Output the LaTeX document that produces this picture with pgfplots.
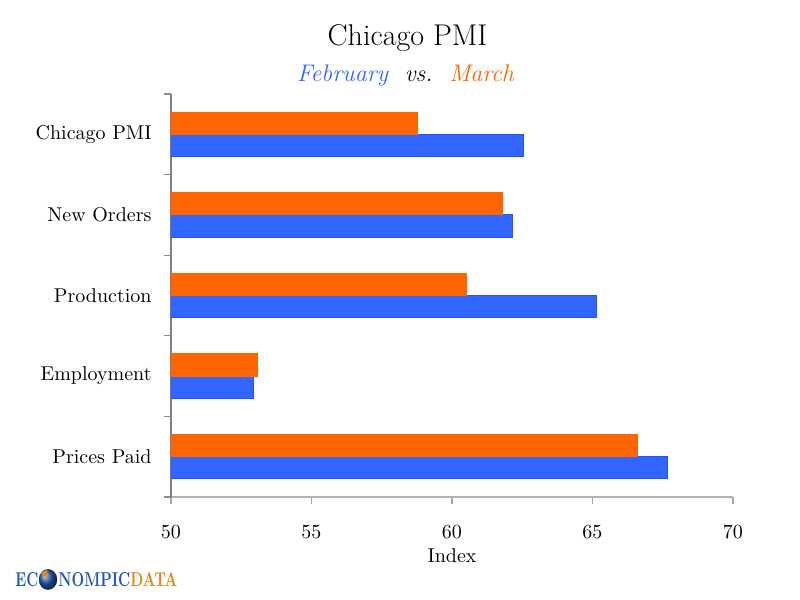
\documentclass[border=0pt]{standalone}
\usepackage{pgfplots}
\pgfplotsset{compat=1.18}
\usepackage{graphicx}
\definecolor{febblue}{HTML}{3366FF}
\definecolor{febedge}{HTML}{1F55FF}
\definecolor{marorange}{HTML}{FF6600}
\definecolor{logoblue}{HTML}{2458B8}
\definecolor{logoorange}{HTML}{E08A1E}
\begin{document}
\begin{tikzpicture}
\fill[white] (0,0) rectangle (400pt,300pt);
% titles
\node[anchor=base, inner sep=0] at (203.75pt,277pt) {\fontsize{15}{18}\selectfont Chicago PMI};
\node[anchor=base, inner sep=0] at (202.75pt,259pt) {\fontsize{12}{14}\selectfont\itshape\textcolor{febblue}{February}\ \ vs.\ \ \textcolor{marorange}{March}};
\begin{axis}[
  at={(85.5pt,51.5pt)}, anchor=south west,
  scale only axis, width=281pt, height=201.5pt,
  xmin=50, xmax=70, ymin=-0.5, ymax=4.5,
  xbar, bar width=0.275,
  axis x line*=bottom, axis y line*=left,
  axis line style={-},
  x axis line style={draw=black!30, line width=0.8pt},
  y axis line style={draw=black!50, line width=0.6pt},
  tick align=outside,
  major tick length=3.5pt, minor tick length=3.5pt,
  xtick={50,55,60,65,70},
  x tick style={draw=black!35, line width=0.6pt},
  ytick={0,1,2,3,4},
  yticklabels={Prices Paid,Employment,Production,New Orders,Chicago PMI},
  minor ytick={-0.5,0.5,1.5,2.5,3.5,4.5},
  major y tick style={draw=none},
  minor y tick style={draw=black!45, line width=0.6pt},
  tick label style={font=\fontsize{10}{12}\selectfont},
  xticklabel style={yshift=-7.2pt},
  yticklabel style={xshift=-2.7pt},
  xlabel={Index},
  xlabel style={at={(axis description cs:0.5,0)}, anchor=base, yshift=-33pt, font=\fontsize{10}{12}\selectfont},
  clip=true,
]
\addplot[fill=febblue, draw=febedge, line width=0.5pt, bar shift=-0.1375] coordinates {
  (67.67,0) (52.95,1) (65.15,2) (62.16,3) (62.55,4)
};
\addplot[fill=marorange, draw=marorange, line width=0.5pt, bar shift=0.1375] coordinates {
  (66.60,0) (53.07,1) (60.50,2) (61.81,3) (58.79,4)
};
\end{axis}
% logo
\node[anchor=base west, inner sep=0, text=logoblue] at (7.5pt,6.5pt) {\resizebox{11.5pt}{7pt}{\bfseries EC}};
\shade[ball color=logoblue] (24pt,10.25pt) circle [x radius=4.6pt, y radius=5.2pt];
\fill[logoorange] (24pt,10.25pt) -- (20.5pt,13.3pt) arc[start angle=140, end angle=95, radius=4.6pt] -- cycle;
\node[anchor=base west, inner sep=0, text=logoblue] at (29pt,6.5pt) {\resizebox{36pt}{7pt}{\bfseries NOMPIC}};
\node[anchor=base west, inner sep=0, text=logoorange] at (65pt,6.5pt) {\resizebox{23.5pt}{7pt}{\bfseries DATA}};
\end{tikzpicture}
\end{document}
